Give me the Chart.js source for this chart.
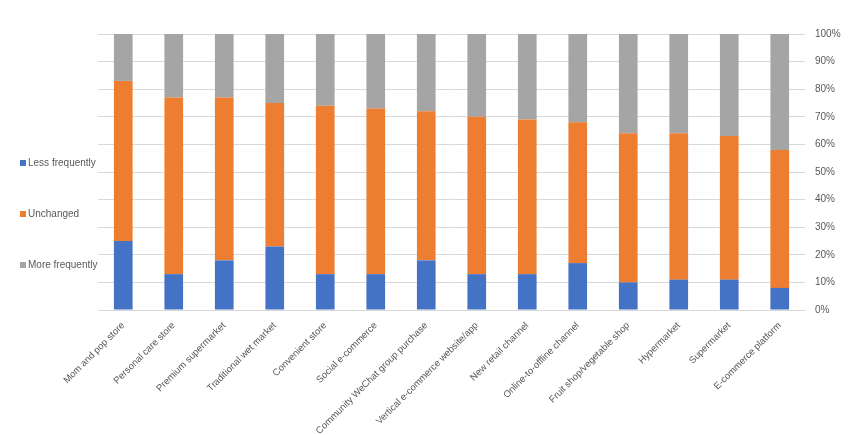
<!DOCTYPE html>
<html>
<head>
<meta charset="utf-8">
<script src="https://cdn.jsdelivr.net/npm/chart.js@4/dist/chart.umd.min.js"></script>
<style>
  html, body { margin: 0; padding: 0; background: #fff; }
  #wrap { width: 850px; height: 435px; }
</style>
</head>
<body>
<div id="wrap"><canvas id="chart" width="850" height="435"></canvas></div>
<script>
// --- data (% of respondents) ---
const channels = [
  'Mom and pop store', 'Personal care store', 'Premium supermarket', 'Traditional wet market',
  'Convenient store', 'Social e-commerce', 'Community WeChat group purchase',
  'Vertical e-commerce website/app', 'New retail channel', 'Online-to-offline channel',
  'Fruit shop/vegetable shop', 'Hypermarket', 'Supermarket', 'E-commerce platform'
];
const lessFrequently = [25, 13, 18, 23, 13, 13, 18, 13, 13, 17, 10, 11, 11, 8];
const unchanged      = [58, 64, 59, 52, 61, 60, 54, 57, 56, 51, 54, 53, 52, 50];
const moreFrequently = [17, 23, 23, 25, 26, 27, 28, 30, 31, 32, 36, 36, 37, 42];
const yTicks = [0, 10, 20, 30, 40, 50, 60, 70, 80, 90, 100];

const FONT = "'Liberation Sans', Arial, sans-serif";
const TEXT = '#595959';
const GRID = '#d9d9d9';

// legend drawn at the left like the excel original
const leftLegend = {
    id: 'leftLegend',
    afterDraw(chart) {
        const ctx = chart.ctx;
        const items = chart.data.datasets;
        ctx.save();
        ctx.font = '10px ' + FONT;
        ctx.textBaseline = 'middle';
        items.forEach((ds, i) => {
            const y = 163 + i * 51;
            ctx.fillStyle = ds.backgroundColor;
            ctx.fillRect(20, y - 3, 6, 6);
            ctx.fillStyle = TEXT;
            ctx.fillText(ds.label, 28, y);
        });
        ctx.restore();
    }
};

const ctx = document.getElementById('chart').getContext('2d');
const chart = new Chart(ctx, {
    type: 'bar',
    data: {
        labels: channels,
        datasets: [
            { label: 'Less frequently', data: lessFrequently, backgroundColor: '#4472c4' },
            { label: 'Unchanged', data: unchanged, backgroundColor: '#ed7d31' },
            { label: 'More frequently', data: moreFrequently, backgroundColor: '#a5a5a5' }
        ]
    },
    options: {
        responsive: false,
        animation: false,
        layout: { padding: { left: 98, right: 5, top: 34, bottom: 0 } },
        datasets: { bar: { categoryPercentage: 1, barPercentage: 0.37 } },
        plugins: {
            legend: { display: false },
            tooltip: { enabled: false }
        },
        scales: {
            x: {
                stacked: true,
                grid: { display: false },
                border: { color: GRID },
                afterFit: axis => { axis.height = 125; },
                ticks: {
                    color: TEXT, font: { family: FONT, size: 9.5 },
                    minRotation: 45, maxRotation: 45, autoSkip: false, padding: 2
                }
            },
            y: {
                stacked: true,
                position: 'right',
                min: 0, max: 100,
                afterBuildTicks: axis => { axis.ticks = yTicks.map(v => ({ value: v })); },
                afterFit: axis => { axis.width = 40; },
                grid: { color: GRID, drawTicks: false },
                border: { display: false },
                ticks: {
                    color: TEXT, font: { family: FONT, size: 10 }, padding: 10,
                    callback: v => v + '%'
                }
            }
        }
    },
    plugins: [leftLegend]
});
</script>
</body>
</html>
